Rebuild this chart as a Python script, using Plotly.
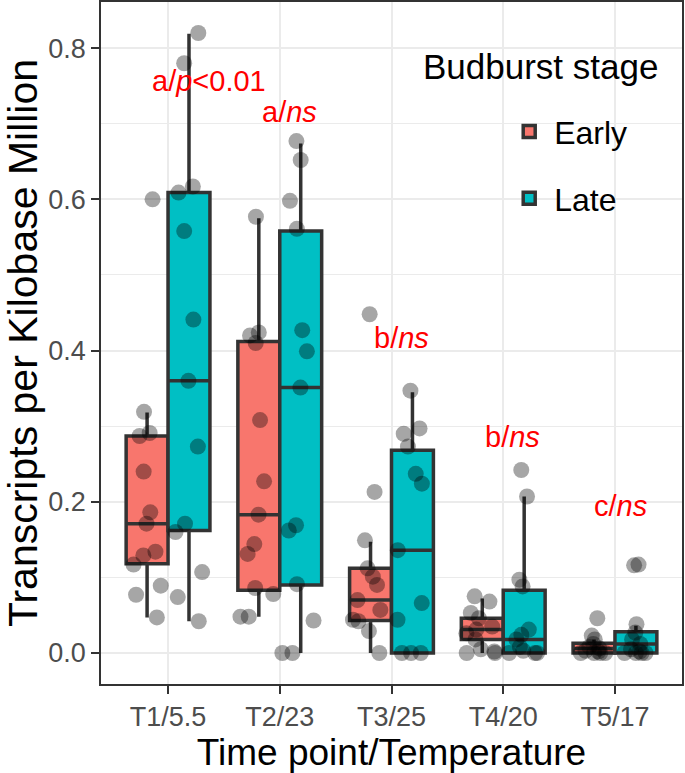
import plotly.graph_objects as go

categories = ["T1/5.5", "T2/23", "T3/25", "T4/20", "T5/17"]

# Individual sample values (TPM) per time point
early_points = {
    "T1/5.5": [0.600, 0.319, 0.291, 0.287, 0.240, 0.186, 0.171, 0.134, 0.129, 0.117, 0.089, 0.077, 0.047],
    "T2/23": [0.577, 0.424, 0.420, 0.410, 0.308, 0.227, 0.183, 0.144, 0.131, 0.086, 0.078, 0.048, 0.048],
    "T3/25": [0.448, 0.213, 0.149, 0.112, 0.101, 0.090, 0.070, 0.057, 0.044, 0.042, 0.029, 0.0],
    "T4/20": [0.075, 0.068, 0.053, 0.046, 0.035, 0.031, 0.026, 0.018, 0.005, 0.0, 0.0, 0.002],
    "T5/17": [0.046, 0.023, 0.018, 0.012, 0.008, 0.006, 0.003, 0.0, 0.0, 0.0, 0.0, 0.002],
}
late_points = {
    "T1/5.5": [0.820, 0.780, 0.617, 0.609, 0.558, 0.441, 0.360, 0.273, 0.171, 0.160, 0.107, 0.074, 0.042],
    "T2/23": [0.677, 0.652, 0.598, 0.561, 0.427, 0.399, 0.351, 0.169, 0.162, 0.091, 0.043, 0.0, 0.0],
    "T3/25": [0.347, 0.297, 0.290, 0.273, 0.237, 0.224, 0.136, 0.066, 0.044, 0.0, 0.0, 0.0],
    "T4/20": [0.242, 0.207, 0.097, 0.088, 0.031, 0.024, 0.018, 0.008, 0.0, 0.0, 0.0, 0.003],
    "T5/17": [0.117, 0.116, 0.038, 0.027, 0.018, 0.012, 0.005, 0.0, 0.0, 0.0, 0.0, 0.002],
}

# Box statistics
early_q1 = [0.118, 0.083, 0.043, 0.018, 0.0]
early_median = [0.171, 0.183, 0.070, 0.031, 0.006]
early_q3 = [0.287, 0.412, 0.112, 0.046, 0.013]
early_lower = [0.047, 0.048, 0.0, 0.0, 0.0]
early_upper = [0.318, 0.575, 0.147, 0.072, 0.018]

late_q1 = [0.162, 0.090, 0.0, 0.0, 0.0]
late_median = [0.360, 0.351, 0.136, 0.018, 0.012]
late_q3 = [0.609, 0.558, 0.268, 0.083, 0.028]
late_lower = [0.042, 0.0, 0.0, 0.0, 0.0]
late_upper = [0.819, 0.674, 0.345, 0.207, 0.036]

# Significance labels
sig_labels = ["a/<i>p</i>&lt;0.01", "a/<i>ns</i>", "b/<i>ns</i>", "b/<i>ns</i>", "c/<i>ns</i>"]
sig_y = [0.757, 0.716, 0.416, 0.286, 0.195]
sig_dx = [0.37, 0.09, 0.09, 0.08, 0.05]

FONT = "Liberation Sans, Arial, Helvetica, sans-serif"
EARLY = "#F8766D"
LATE = "#00BFC4"
EDGE = "#333333"

fig = go.Figure()

for name, color, q1, med, q3, lo, hi in [
    ("Early", EARLY, early_q1, early_median, early_q3, early_lower, early_upper),
    ("Late", LATE, late_q1, late_median, late_q3, late_lower, late_upper),
]:
    fig.add_trace(go.Box(
        name=name, x=categories, q1=q1, median=med, q3=q3,
        lowerfence=lo, upperfence=hi,
        fillcolor=color, line=dict(color=EDGE, width=3.5),
        whiskerwidth=0, boxpoints=False,
        offsetgroup=name, legendgroup=name, showlegend=True,
    ))

for name, pts in [("Early", early_points), ("Late", late_points)]:
    xs, ys = [], []
    for c in categories:
        xs += [c] * len(pts[c])
        ys += pts[c]
    fig.add_trace(go.Box(
        name=name, x=xs, y=ys, boxpoints="all", jitter=0.9, pointpos=0,
        fillcolor="rgba(0,0,0,0)", line=dict(color="rgba(0,0,0,0)", width=0),
        whiskerwidth=0,
        marker=dict(color="rgba(0,0,0,0.35)", size=16, line=dict(width=0)),
        offsetgroup=name, legendgroup=name, showlegend=False,
    ))

for i, (txt, yv, dx) in enumerate(zip(sig_labels, sig_y, sig_dx)):
    fig.add_annotation(x=i + dx, y=yv, xref="x", yref="y", text=txt,
                       showarrow=False, font=dict(family=FONT, size=29, color="#FF0000"))

fig.add_annotation(x=0.756, y=0.906, xref="paper", yref="paper", text="Budburst stage",
                   xanchor="center", yanchor="middle",
                   showarrow=False, font=dict(family=FONT, size=35, color="black"))

fig.update_layout(
    width=685, height=773,
    margin=dict(l=101, r=3, t=2, b=89),
    paper_bgcolor="white", plot_bgcolor="white",
    boxmode="group", boxgap=0.25, boxgroupgap=0,
    font=dict(family=FONT),
    showlegend=True,
    legend=dict(x=0.694, y=0.85, xanchor="left", yanchor="top",
                bgcolor="rgba(0,0,0,0)", font=dict(family=FONT, size=32, color="black"),
                traceorder="grouped", tracegroupgap=22, itemwidth=40),
    xaxis=dict(
        type="category", categoryorder="array", categoryarray=categories,
        range=[-0.6, 4.6], automargin=False,
        showgrid=True, gridcolor="#EBEBEB", gridwidth=1.5,
        showline=True, linecolor=EDGE, linewidth=1.5, mirror=True,
        ticks="outside", ticklen=8, tickwidth=1.5, tickcolor=EDGE,
        tickfont=dict(family=FONT, size=27, color="#4D4D4D"),
        title=dict(text="Time point/Temperature", font=dict(family=FONT, size=37, color="black"), standoff=4),
        zeroline=False,
    ),
    yaxis=dict(
        range=[-0.041, 0.861], automargin=False,
        tickvals=[0.0, 0.2, 0.4, 0.6, 0.8], ticktext=["0.0", "0.2", "0.4", "0.6", "0.8"],
        showgrid=True, gridcolor="#EBEBEB", gridwidth=1.5,
        minor=dict(tickvals=[0.1, 0.3, 0.5, 0.7], showgrid=True, gridcolor="#EBEBEB", gridwidth=0.8, ticks=""),
        showline=True, linecolor=EDGE, linewidth=1.5, mirror=True,
        ticks="outside", ticklen=8, tickwidth=1.5, tickcolor=EDGE,
        tickfont=dict(family=FONT, size=27, color="#4D4D4D"),
        title=dict(text="Transcripts per Kilobase Million", font=dict(family=FONT, size=41, color="black"), standoff=2),
        zeroline=False,
    ),
)

fig.write_html("out.html", config={"displayModeBar": False},
               post_script="document.body.style.margin='0px';")
